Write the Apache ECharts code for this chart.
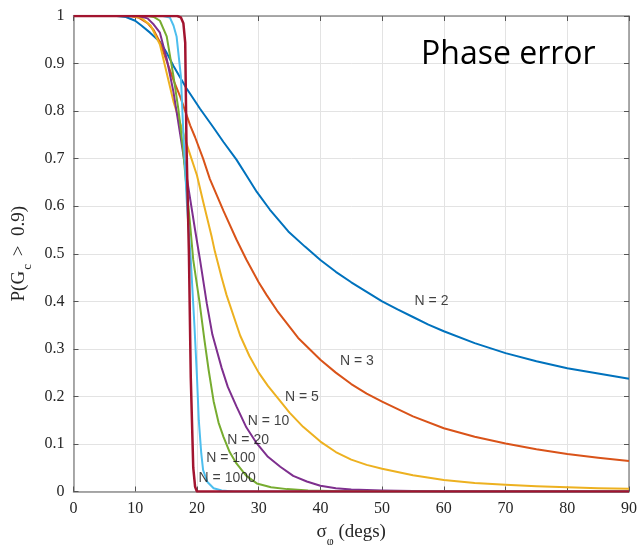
<!DOCTYPE html>
<html>
<head>
<meta charset="utf-8">
<script src="https://cdn.jsdelivr.net/npm/echarts@6/dist/echarts.min.js"></script>
<style>
html,body{margin:0;padding:0;background:#fff;}
#chart{width:641px;height:545px;}
</style>
</head>
<body>
<div id="chart"></div>
<script>
// sigma_phi (degs) vs P(Gc > 0.9)
var seriesNames = ['N = 2', 'N = 3', 'N = 5', 'N = 10', 'N = 20', 'N = 100', 'N = 1000'];
var seriesColors = ['#0072BD', '#D95319', '#EDB120', '#7E2F8E', '#77AC30', '#4DBEEE', '#A2142F'];

var dataN2 = [[0,1],[7,1],[8.5,0.998],[10,0.99],[11,0.98],[12.4,0.965],[14,0.946],[15,0.925],[16.2,0.895],[18.3,0.848],[20.5,0.805],[22.7,0.765],[24.3,0.735],[26.4,0.698],[28,0.665],[29.7,0.63],[31.8,0.593],[34.8,0.547],[37.5,0.515],[40,0.487],[42.5,0.462],[45,0.44],[47.5,0.42],[50,0.40],[52.5,0.383],[55,0.367],[57.5,0.351],[60,0.337],[65,0.312],[70,0.291],[75,0.274],[80,0.259],[85,0.248],[90,0.237]];
var dataN3 = [[0,1],[9,1],[10.5,0.997],[12,0.985],[13,0.97],[14,0.945],[15.1,0.905],[16.2,0.865],[17.3,0.83],[18.9,0.77],[19.7,0.745],[21,0.70],[22.1,0.657],[24.3,0.59],[26.4,0.53],[28,0.488],[30,0.44],[31.3,0.413],[33,0.38],[36.4,0.323],[40,0.277],[42.5,0.25],[45,0.226],[47.5,0.206],[50,0.189],[55,0.158],[60,0.133],[65,0.115],[70,0.101],[75,0.089],[80,0.079],[85,0.071],[90,0.064]];
var dataN5 = [[0,1],[9.5,1],[11,0.996],[12.5,0.98],[14,0.94],[15.1,0.88],[16.2,0.82],[17.4,0.77],[18.6,0.72],[20,0.665],[21,0.61],[22.4,0.535],[22.9,0.505],[24,0.45],[24.8,0.413],[27,0.328],[28.5,0.285],[30,0.25],[31.5,0.222],[33.5,0.19],[35,0.166],[37.2,0.136],[40,0.105],[42.5,0.083],[45,0.067],[47.5,0.056],[50,0.048],[55,0.034],[60,0.024],[65,0.018],[70,0.014],[75,0.011],[80,0.009],[85,0.007],[90,0.006]];
var dataN10 = [[0,1],[10.5,1],[12,0.995],[13,0.982],[14,0.965],[15.1,0.91],[16.2,0.84],[17.3,0.75],[18.6,0.64],[19.7,0.55],[20.5,0.487],[21.6,0.395],[22.5,0.33],[24,0.26],[25,0.22],[26.4,0.179],[28,0.135],[29.7,0.101],[31.5,0.073],[33.5,0.052],[35.6,0.033],[37.8,0.021],[40,0.012],[42.5,0.007],[45,0.004],[50,0.002],[55,0.001],[60,0],[90,0]];
var dataN20 = [[0,1],[12,1],[13,0.998],[14,0.99],[15.1,0.957],[16.2,0.873],[17,0.803],[17.7,0.726],[18.3,0.64],[18.9,0.56],[19.4,0.487],[20.4,0.4],[21.2,0.32],[21.9,0.255],[22.7,0.19],[23.5,0.145],[24.3,0.115],[25.3,0.083],[26.4,0.059],[28,0.033],[29.7,0.017],[32,0.009],[34.6,0.005],[38,0.002],[42,0.001],[50,0],[90,0]];
var dataN100 = [[0,1],[14.5,1],[15.6,0.997],[16.2,0.98],[16.7,0.957],[17.4,0.873],[17.7,0.782],[17.9,0.726],[18.4,0.6],[19.0,0.487],[19.6,0.347],[20,0.242],[20.3,0.15],[20.7,0.08],[21,0.045],[21.7,0.02],[22.7,0.007],[24,0.002],[26,0],[90,0]];
var dataN1000 = [[0,1],[16.8,1],[17.4,0.997],[17.8,0.985],[18.1,0.944],[18.3,0.733],[18.7,0.5],[19,0.24],[19.4,0.05],[19.7,0.01],[20,0],[90,0]];
var seriesData = [dataN2, dataN3, dataN5, dataN10, dataN20, dataN100, dataN1000];

// curve labels, placed in data coordinates
var labelPositions = [[58.0,0.40],[45.9,0.275],[37.0,0.198],[31.6,0.149],[28.3,0.108],[25.5,0.07],[24.9,0.028]];

var xTicks = [0,10,20,30,40,50,60,70,80,90];
var yTicks = [0,0.1,0.2,0.3,0.4,0.5,0.6,0.7,0.8,0.9,1];

var chart = echarts.init(document.getElementById('chart'), null, {renderer:'canvas'});

var serif = 'Liberation Serif';
var axisLineStyle = {color:'#8f8f8f', width:1.5};
var tickStyle = {color:'#555', width:1};
var splitStyle = {color:'#e3e3e3', width:1};

var series = seriesData.map(function(d, i){
  return {
    name: seriesNames[i],
    type: 'line',
    data: d,
    showSymbol: false,
    symbol: 'none',
    smooth: false,
    lineStyle: {color: seriesColors[i], width: i === 6 ? 2.5 : 2, join: 'round'},
    itemStyle: {color: seriesColors[i]},
    z: 2 + i,
    silent: true
  };
});

series.push({
  type: 'scatter',
  symbolSize: 0,
  z: 20,
  silent: true,
  data: labelPositions.map(function(p, i){ return {value: p, name: seriesNames[i]}; }),
  label: {
    show: true,
    position: 'inside',
    formatter: function(p){ return p.name; },
    fontFamily: 'Liberation Sans',
    fontSize: 14,
    color: '#111'
  }
});

var option = {
  animation: false,
  backgroundColor: '#fff',
  grid: {left: 73.5, right: 12, top: 16, bottom: 53.5, containLabel: false, outerBoundsMode: 'none'},
  xAxis: [{
    type: 'value', min: 0, max: 90, interval: 10,
    axisLine: {show:true, onZero:false, lineStyle: axisLineStyle},
    axisTick: {show:true, inside:true, length:5, lineStyle: tickStyle},
    axisLabel: {fontFamily: serif, fontSize: 16, color:'#262626', margin: 9},
    splitLine: {show:true, lineStyle: splitStyle},
    name: '{n|σ}{s|φ}{n| (degs)}',
    nameLocation: 'middle',
    nameGap: 26,
    nameTextStyle: {
      rich: {
        n: {fontFamily: serif, fontSize: 19, color:'#262626', lineHeight: 20},
        s: {fontFamily: serif, fontSize: 12, color:'#262626', lineHeight: 30, verticalAlign:'bottom'}
      }
    }
  },{
    type: 'value', min: 0, max: 90, interval: 10, position: 'top',
    axisLine: {show:true, onZero:false, lineStyle: axisLineStyle},
    axisTick: {show:true, inside:true, length:5, lineStyle: tickStyle},
    axisLabel: {show:false},
    splitLine: {show:false}
  }],
  yAxis: [{
    type: 'value', min: 0, max: 1, interval: 0.1,
    axisLine: {show:true, onZero:false, lineStyle: axisLineStyle},
    axisTick: {show:true, inside:true, length:5, lineStyle: tickStyle},
    axisLabel: {fontFamily: serif, fontSize: 16, color:'#262626', margin: 9,
      formatter: function(v){ return Math.abs(v-1) < 1e-9 ? '1' : (Math.abs(v) < 1e-9 ? '0' : v.toFixed(1)); }},
    splitLine: {show:true, lineStyle: splitStyle},
    name: '{n|P(G}{s|c}{n| >  0.9)}',
    nameLocation: 'middle',
    nameRotate: 90,
    nameGap: 25,
    nameTextStyle: {
      rich: {
        n: {fontFamily: serif, fontSize: 19, color:'#262626', lineHeight: 20},
        s: {fontFamily: serif, fontSize: 13, color:'#262626', lineHeight: 30, verticalAlign:'bottom', padding:[0,3,0,1]}
      }
    }
  },{
    type: 'value', min: 0, max: 1, interval: 0.1, position: 'right',
    axisLine: {show:true, onZero:false, lineStyle: axisLineStyle},
    axisTick: {show:true, inside:true, length:5, lineStyle: tickStyle},
    axisLabel: {show:false},
    splitLine: {show:false}
  }],
  graphic: [{
    type: 'text',
    left: 421,
    top: 39,
    z: 100,
    style: {text: 'Phase error', fontFamily: 'Open Sans', fontSize: 32, fill: '#000'}
  }],
  series: series
};
chart.setOption(option);
</script>
</body>
</html>
